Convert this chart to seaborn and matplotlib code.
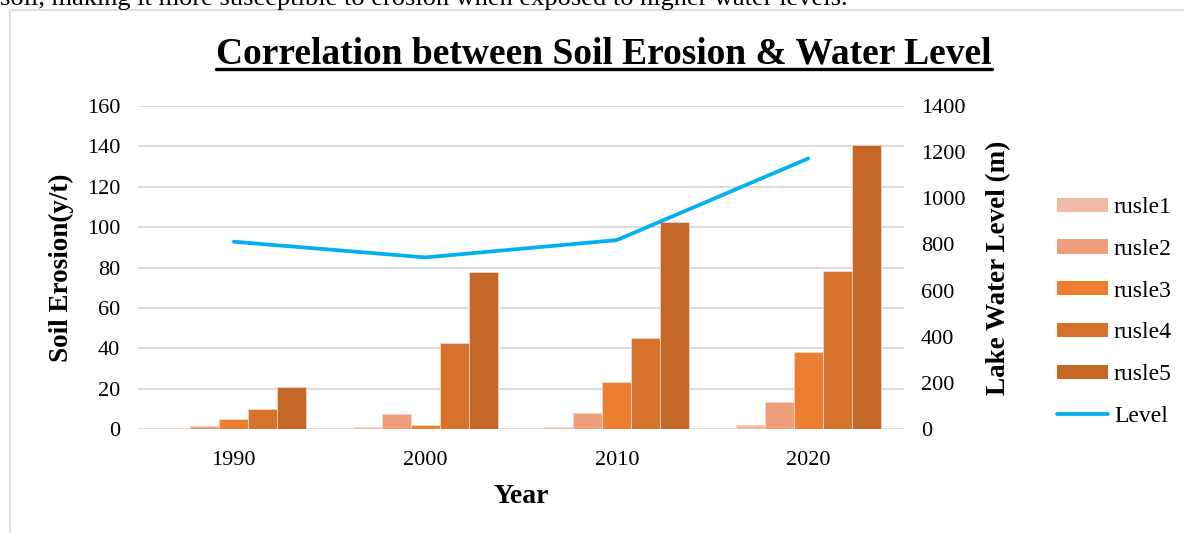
import matplotlib
matplotlib.use("Agg")
import matplotlib.pyplot as plt
from matplotlib.lines import Line2D
from matplotlib.patches import Rectangle
import numpy as np
import pandas as pd
import seaborn as sns

# Data
years = ["1990", "2000", "2010", "2020"]
rusle1 = [0.3, 1.0, 1.0, 2.2]
rusle2 = [1.5, 7.7, 8.0, 13.2]
rusle3 = [5.0, 2.0, 23.5, 38.0]
rusle4 = [10.0, 42.5, 45.0, 78.4]
rusle5 = [20.7, 77.7, 102.6, 140.6]
level = [812, 744, 819, 1173]
series_names = ["rusle1", "rusle2", "rusle3", "rusle4", "rusle5"]
left_ticks = [0, 20, 40, 60, 80, 100, 120, 140, 160]
right_ticks = [0, 200, 400, 600, 800, 1000, 1200, 1400]

colors = ["#F2B9A4", "#EF9E7A", "#ED7D31", "#D7722D", "#C46728"]
line_color = "#00B0F0"
grid_color = "#D9D9D9"

df = pd.DataFrame({
    "Year": np.repeat(years, len(series_names)),
    "Model": series_names * len(years),
    "Erosion": np.array([rusle1, rusle2, rusle3, rusle4, rusle5]).T.ravel(),
})

sns.set_theme(style="white")
plt.rcParams["font.family"] = ["Liberation Serif", "DejaVu Serif"]
plt.rcParams["text.color"] = "black"
plt.rcParams["axes.labelcolor"] = "black"

fig = plt.figure(figsize=(11.84, 5.33), dpi=100)
ax = fig.add_axes([0.1166, 0.195, 0.6469, 0.606])

sns.barplot(data=df, x="Year", y="Erosion", hue="Model", order=years,
            hue_order=series_names, palette=colors, width=0.755,
            saturation=1, edgecolor="#F6D5C6", linewidth=0.6, ax=ax,
            legend=False, zorder=3, errorbar=None)

ax.set_xlim(-0.5, 3.5)
ax.set_ylim(0, 160)
ax.set_yticks(left_ticks)
ax.yaxis.grid(True, color=grid_color, linewidth=1.3, zorder=0)
ax.set_axisbelow(True)
for s in ax.spines.values():
    s.set_visible(False)
ax.tick_params(axis="both", length=0, labelsize=16, colors="black")
ax.tick_params(axis="y", pad=13)
ax.tick_params(axis="x", pad=16)
ax.set_xlabel("Year", fontsize=20, fontweight="bold", labelpad=10)
ax.set_ylabel("Soil Erosion(y/t)", fontsize=19.5, fontweight="bold", labelpad=9)

ax2 = ax.twinx()
sns.lineplot(x=np.arange(len(years)), y=level, color=line_color,
             linewidth=2.7, ax=ax2, zorder=4)
ax2.set_ylim(0, 1400)
ax2.set_yticks(right_ticks)
for s in ax2.spines.values():
    s.set_visible(False)
ax2.tick_params(axis="y", length=0, labelsize=16, colors="black", pad=12)
ax2.set_ylabel("Lake Water Level (m)", fontsize=19.5, fontweight="bold", labelpad=15)
ax2.grid(False)

# Legend
handles = [Rectangle((0, 0), 1, 1, facecolor=c, edgecolor="none") for c in colors]
handles.append(Line2D([0], [0], color=line_color, linewidth=2.7))
labels = series_names + ["Level"]
fig.legend(handles, labels, loc="upper left", bbox_to_anchor=(0.885, 0.648),
           frameon=False, fontsize=17, handlelength=2.15, handleheight=0.55,
           labelspacing=0.88, handletextpad=0.25, borderaxespad=0)

# Title with underline
title = fig.text(0.51, 0.898, "Correlation between Soil Erosion & Water Level",
                 ha="center", va="center", fontsize=27, fontweight="bold")
fig.canvas.draw()
bb = title.get_window_extent(renderer=fig.canvas.get_renderer())
inv = fig.transFigure.inverted()
(x0, y0), (x1, _) = inv.transform([(bb.x0, bb.y0 + 3), (bb.x1, bb.y0)])
fig.add_artist(Line2D([x0, x1], [y0, y0], color="black", linewidth=2.4,
                      transform=fig.transFigure))

# Chart frame and preceding paragraph line
fig.add_artist(Line2D([0.0085, 0.0085, 1.0], [0.0, 0.981, 0.981],
                      color="#D9D9D9", linewidth=1.2, transform=fig.transFigure))
fig.text(0.0, 0.991, "soil, making it more susceptible to erosion when exposed to higher water levels.",
         ha="left", va="baseline", fontsize=19)

fig.savefig("out.png", dpi=100)
